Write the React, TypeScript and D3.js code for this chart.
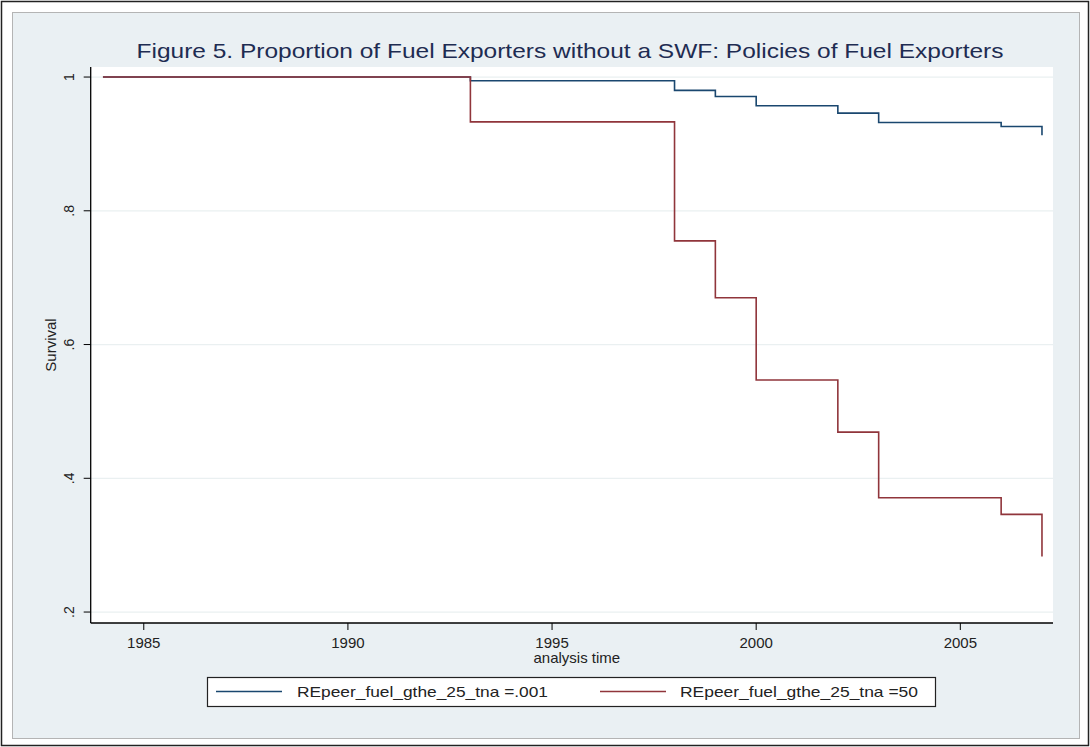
import React, { useRef, useEffect } from 'react';
import * as d3 from 'd3';

const times = [1984, 1993, 1998, 1999, 2000, 2002, 2003, 2006, 2007];
const survLow = [1, 0.9945, 0.98, 0.971, 0.957, 0.946, 0.932, 0.926, 0.913];
const survHigh = [1, 0.933, 0.755, 0.67, 0.547, 0.469, 0.371, 0.346, 0.283];
const xTicks = [1985, 1990, 1995, 2000, 2005];
const yTicks = [1, 0.8, 0.6, 0.4, 0.2];
const yTickLabels = ['1', '.8', '.6', '.4', '.2'];
const seriesNames = ['REpeer_fuel_gthe_25_tna =.001', 'REpeer_fuel_gthe_25_tna =50'];
const seriesColors = ['#1a476f', '#90353b'];

const W = 1090;
const H = 747;

const App = () => {
  const ref = useRef(null);

  useEffect(() => {
    const svg = d3.select(ref.current);
    svg.selectAll('*').remove();
    const font = '"Liberation Sans", Arial, sans-serif';

    // outer frame + graph region
    svg.append('rect').attr('x', 1.5).attr('y', 1.5).attr('width', W - 3).attr('height', H - 3)
      .attr('fill', '#fff').attr('stroke', '#222').attr('stroke-width', 1.5);
    svg.append('rect').attr('x', 12.5).attr('y', 12.5).attr('width', 1067).attr('height', 726)
      .attr('fill', '#eaf0f3').attr('stroke', '#b4b4b4');

    const left = 90.7, right = 1053, top = 67, bottom = 623;
    const x = d3.scaleLinear().domain([1983.7, 2007.27]).range([left, right]);
    const y = d3.scaleLinear().domain([0.1836, 1.015]).range([bottom, top]);

    svg.append('rect').attr('x', left).attr('y', top).attr('width', right - left).attr('height', bottom - top)
      .attr('fill', '#fff');

    // gridlines
    svg.append('g').selectAll('line').data(yTicks).join('line')
      .attr('x1', left).attr('x2', right)
      .attr('y1', d => y(d)).attr('y2', d => y(d))
      .attr('stroke', '#eaf0f1').attr('stroke-width', 1.2);

    // lines
    const line = d3.line().x(d => x(d[0])).y(d => y(d[1])).curve(d3.curveStepAfter);
    [survLow, survHigh].forEach((s, i) => {
      svg.append('path')
        .datum(times.map((t, j) => [t, s[j]]))
        .attr('d', line)
        .attr('fill', 'none')
        .attr('stroke', seriesColors[i])
        .attr('stroke-width', 1.6);
    });

    // axes
    svg.append('line').attr('x1', left).attr('x2', left).attr('y1', top).attr('y2', bottom)
      .attr('stroke', '#000').attr('stroke-width', 1.3);
    svg.append('line').attr('x1', left).attr('x2', right).attr('y1', bottom).attr('y2', bottom)
      .attr('stroke', '#000').attr('stroke-width', 1.3);

    const yt = svg.append('g').selectAll('g').data(yTicks).join('g');
    yt.append('line').attr('x1', left - 7).attr('x2', left).attr('y1', d => y(d)).attr('y2', d => y(d))
      .attr('stroke', '#000');
    yt.append('text')
      .attr('transform', d => `translate(${left - 17},${y(d)}) rotate(-90)`)
      .attr('text-anchor', 'middle')
      .style('font-family', font).style('font-size', '14px').attr('fill', '#222')
      .text((d, i) => yTickLabels[i]);

    const xt = svg.append('g').selectAll('g').data(xTicks).join('g');
    xt.append('line').attr('x1', d => x(d)).attr('x2', d => x(d)).attr('y1', bottom).attr('y2', bottom + 7)
      .attr('stroke', '#000');
    xt.append('text')
      .attr('x', d => x(d)).attr('y', bottom + 25)
      .attr('text-anchor', 'middle')
      .style('font-family', font).style('font-size', '15px').attr('fill', '#222')
      .text(d => d);

    svg.append('text').attr('x', (left + right) / 2 + 5).attr('y', 663)
      .attr('text-anchor', 'middle')
      .style('font-family', font).style('font-size', '15px').attr('fill', '#222')
      .text('analysis time');

    svg.append('text')
      .attr('transform', `translate(56,${(top + bottom) / 2}) rotate(-90)`)
      .attr('text-anchor', 'middle')
      .style('font-family', font).style('font-size', '15px').attr('fill', '#222')
      .text('Survival');

    // title
    svg.append('text').attr('x', 570).attr('y', 58)
      .attr('text-anchor', 'middle')
      .attr('textLength', 867).attr('lengthAdjust', 'spacingAndGlyphs')
      .style('font-family', font).style('font-size', '21px').attr('fill', '#1e2c52')
      .text('Figure 5. Proportion of Fuel Exporters without a SWF: Policies of Fuel Exporters');

    // legend
    svg.append('rect').attr('x', 207.5).attr('y', 677.5).attr('width', 728).attr('height', 29)
      .attr('fill', '#fff').attr('stroke', '#222').attr('stroke-width', 1.2);
    const lg = [
      { x0: 216, tx: 297, tw: 251 },
      { x0: 600, tx: 680, tw: 238 },
    ];
    seriesNames.forEach((name, i) => {
      svg.append('line').attr('x1', lg[i].x0).attr('x2', lg[i].x0 + 66).attr('y1', 691.5).attr('y2', 691.5)
        .attr('stroke', seriesColors[i]).attr('stroke-width', 1.3);
      svg.append('text').attr('x', lg[i].tx).attr('y', 697)
        .attr('textLength', lg[i].tw).attr('lengthAdjust', 'spacingAndGlyphs')
        .style('font-family', font).style('font-size', '15px').attr('fill', '#222')
        .text(name);
    });
  }, []);

  return (
    <svg ref={ref} width={W} height={H} style={{ position: 'absolute', left: 0, top: 0 }}></svg>
  );
};

export default App;
